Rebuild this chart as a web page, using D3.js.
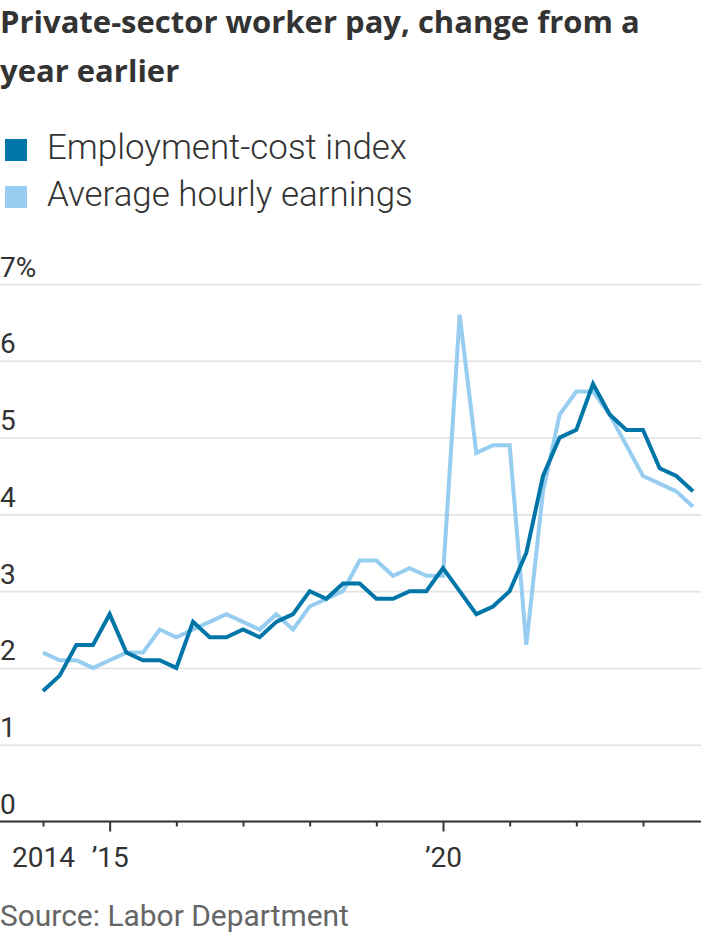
<!DOCTYPE html>
<html><head><meta charset="utf-8">
<script src="https://cdn.jsdelivr.net/npm/d3@7"></script>
<style>
body{margin:0;background:#fff;}
svg text{font-family:Roboto,"Noto Sans","Liberation Sans",sans-serif;}
</style></head><body>
<svg id="c" width="701" height="934"></svg>
<script>
// ---- data ----
const quarters = [
 "2014-Q1","2014-Q2","2014-Q3","2014-Q4","2015-Q1","2015-Q2","2015-Q3","2015-Q4",
 "2016-Q1","2016-Q2","2016-Q3","2016-Q4","2017-Q1","2017-Q2","2017-Q3","2017-Q4",
 "2018-Q1","2018-Q2","2018-Q3","2018-Q4","2019-Q1","2019-Q2","2019-Q3","2019-Q4",
 "2020-Q1","2020-Q2","2020-Q3","2020-Q4","2021-Q1","2021-Q2","2021-Q3","2021-Q4",
 "2022-Q1","2022-Q2","2022-Q3","2022-Q4","2023-Q1","2023-Q2","2023-Q3","2023-Q4"];
const employmentCostIndex = [1.7,1.9,2.3,2.3,2.7,2.2,2.1,2.1,2.0,2.6,2.4,2.4,2.5,2.4,2.6,2.7,
 3.0,2.9,3.1,3.1,2.9,2.9,3.0,3.0,3.3,3.0,2.7,2.8,3.0,3.5,4.5,5.0,5.1,5.7,5.3,5.1,5.1,4.6,4.5,4.3];
const averageHourlyEarnings = [2.2,2.1,2.1,2.0,2.1,2.2,2.2,2.5,2.4,2.5,2.6,2.7,2.6,2.5,2.7,2.5,
 2.8,2.9,3.0,3.4,3.4,3.2,3.3,3.2,3.2,6.6,4.8,4.9,4.9,2.3,4.3,5.3,5.6,5.6,5.3,4.9,4.5,4.4,4.3,4.1];
const yTickValues = [0,1,2,3,4,5,6,7];
const xTickYears = [2014,2015,2016,2017,2018,2019,2020,2021,2022,2023];
const xTickLabels = {2014:"2014",2015:"\u201915",2020:"\u201920"};
const seriesNames = ["Employment-cost index","Average hourly earnings"];
const colors = ["#0076a8","#96cdf0"];
const titleLines = ["Private-sector worker pay, change from a","year earlier"];
const source = "Source: Labor Department";

// ---- chart ----
const W = 701;
const svg = d3.select("#c");
const toYear = q => +q.slice(0,4) + (+q.slice(6)-1)/4;
const x = d3.scaleLinear().domain([2014,2024]).range([43, 709.67]);
const y = d3.scaleLinear().domain([0,7]).range([821.5, 284]);

// scale a group of texts so the first one spans the target width
function fit(sel, target){
  const n = sel.node();
  const fs = +sel.attr("font-size");
  const w = n.getComputedTextLength();
  if (w>0) sel.attr("font-size", fs*target/w);
}

// title
const title = svg.append("g").attr("font-family","'Open Sans', Roboto, sans-serif")
  .selectAll("text").data(titleLines).join("text")
  .attr("x",0).attr("y",(d,i)=>33+i*49)
  .attr("font-size",29).attr("font-weight",700).attr("fill","#333")
  .style("font-family","'Open Sans', Roboto, sans-serif")
  .text(d=>d);
fit(title, 640);

// legend
const lg = svg.append("g").selectAll("g").data(seriesNames).join("g")
  .attr("transform",(d,i)=>`translate(0,${139+i*47})`);
lg.append("rect").attr("x",5).attr("y",0).attr("width",22).attr("height",22)
  .attr("fill",(d,i)=>colors[i]);
const lt = lg.append("text").attr("x",47).attr("y",20).attr("font-size",31).attr("font-weight",300)
  .attr("fill","#333").text(d=>d);
fit(lt, 360);

// gridlines + y labels
const yAxis = d3.axisRight(y).tickValues(yTickValues).tickSize(W)
  .tickFormat(d=> d===7 ? "7%" : d);
const gy = svg.append("g").call(yAxis);
gy.select(".domain").remove();
gy.selectAll(".tick line").attr("stroke","#e2e2e2").attr("stroke-width",1.6);
gy.selectAll(".tick text").attr("x",0).attr("dy",0).attr("y",-8)
  .attr("text-anchor","start").attr("font-size",28).attr("fill","#333")
  .attr("font-family","Roboto, 'Noto Sans', sans-serif");

// lines
const line = d3.line().x((d,i)=>x(toYear(quarters[i]))).y(d=>y(d));
[averageHourlyEarnings, employmentCostIndex].forEach((s,k)=>{
  svg.append("path").datum(s).attr("d",line).attr("fill","none")
    .attr("stroke", k===0?colors[1]:colors[0]).attr("stroke-width",4)
    .attr("stroke-linejoin","miter");
});

// x axis
const xAxis = d3.axisBottom(x).tickValues(xTickYears).tickSizeOuter(0)
  .tickFormat(d=>xTickLabels[d]||"");
const gx = svg.append("g").attr("transform","translate(0,821.5)").call(xAxis);
gx.select(".domain").attr("d",`M0,0H${W}`).attr("stroke","#333").attr("stroke-width",2);
gx.selectAll(".tick line").attr("stroke","#333").attr("stroke-width",2)
  .attr("y2",d=> (d===2015||d===2020)?10:5);
gx.selectAll(".tick text").attr("y",45).attr("dy",0).attr("font-size",28).attr("fill","#333")
  .attr("font-family","Roboto, 'Noto Sans', sans-serif");

// source
const src = svg.append("text").attr("x",0).attr("y",926).attr("font-size",28).attr("fill","#666")
  .text(source);
fit(src, 349);
</script></body></html>
